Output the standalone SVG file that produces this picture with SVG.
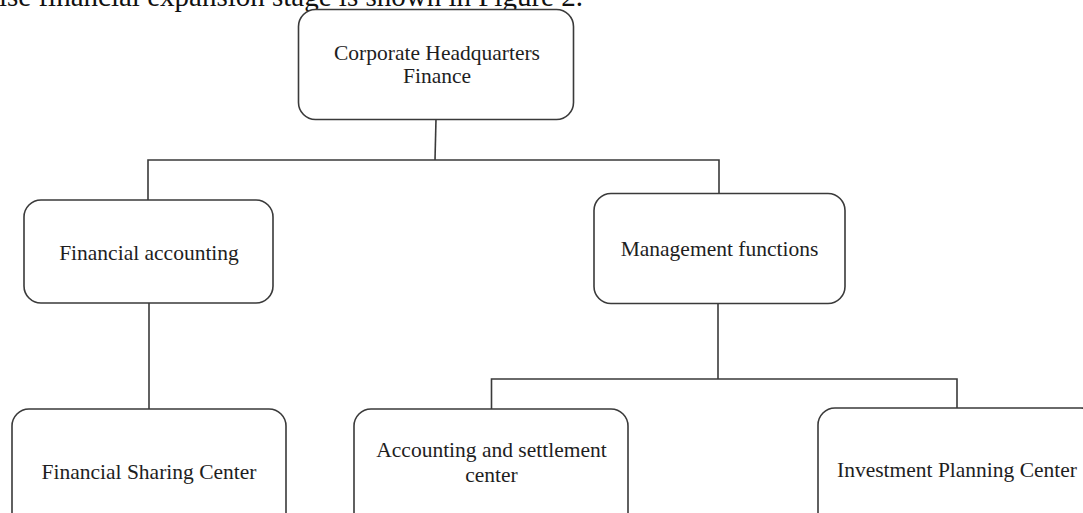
<svg xmlns="http://www.w3.org/2000/svg" width="1083" height="513" viewBox="0 0 1083 513">
<style>
.box{fill:#ffffff;stroke:#3a3a3a;stroke-width:1.6}
.lbl{font-family:"Liberation Serif","Times New Roman",serif;font-size:21.5px;fill:#1e1e1e;text-anchor:middle}
.body{font-family:"Liberation Serif","Times New Roman",serif;font-size:29px;fill:#111111}
.conn{fill:none;stroke:#3a3a3a;stroke-width:1.6}
</style>
<rect width="1083" height="513" fill="#ffffff"/>
<text class="body" x="-1" y="6">ise financial expansion stage is shown in Figure 2.</text>
<g id="connectors">
<path class="conn" d="M436,119 L435,160"/>
<path class="conn" d="M148,200 V160 H719 V193.5"/>
<path class="conn" d="M149,303 V409"/>
<path class="conn" d="M718,303.5 V379"/>
<path class="conn" d="M491.5,409 V379 H957 V408"/>
</g>
<g id="node-hq">
<rect class="box" x="298.5" y="9.5" width="275" height="110" rx="17"/>
<text class="lbl" x="437" y="60">Corporate Headquarters</text>
<text class="lbl" x="437" y="83">Finance</text>
</g>
<g id="node-financial-accounting">
<rect class="box" x="24" y="200" width="249" height="103" rx="17"/>
<text class="lbl" x="149" y="260">Financial accounting</text>
</g>
<g id="node-management">
<rect class="box" x="594" y="193.5" width="251" height="110" rx="17"/>
<text class="lbl" x="719.5" y="256">Management functions</text>
</g>
<g id="node-sharing">
<rect class="box" x="12" y="409" width="274" height="130" rx="17"/>
<text class="lbl" x="149" y="479">Financial Sharing Center</text>
</g>
<g id="node-settlement">
<rect class="box" x="354" y="409" width="274" height="130" rx="17"/>
<text class="lbl" x="491.5" y="457">Accounting and settlement</text>
<text class="lbl" x="491.5" y="482">center</text>
</g>
<g id="node-investment">
<rect class="box" x="818" y="408" width="280" height="130" rx="17"/>
<text class="lbl" x="957" y="477">Investment Planning Center</text>
</g>
</svg>
